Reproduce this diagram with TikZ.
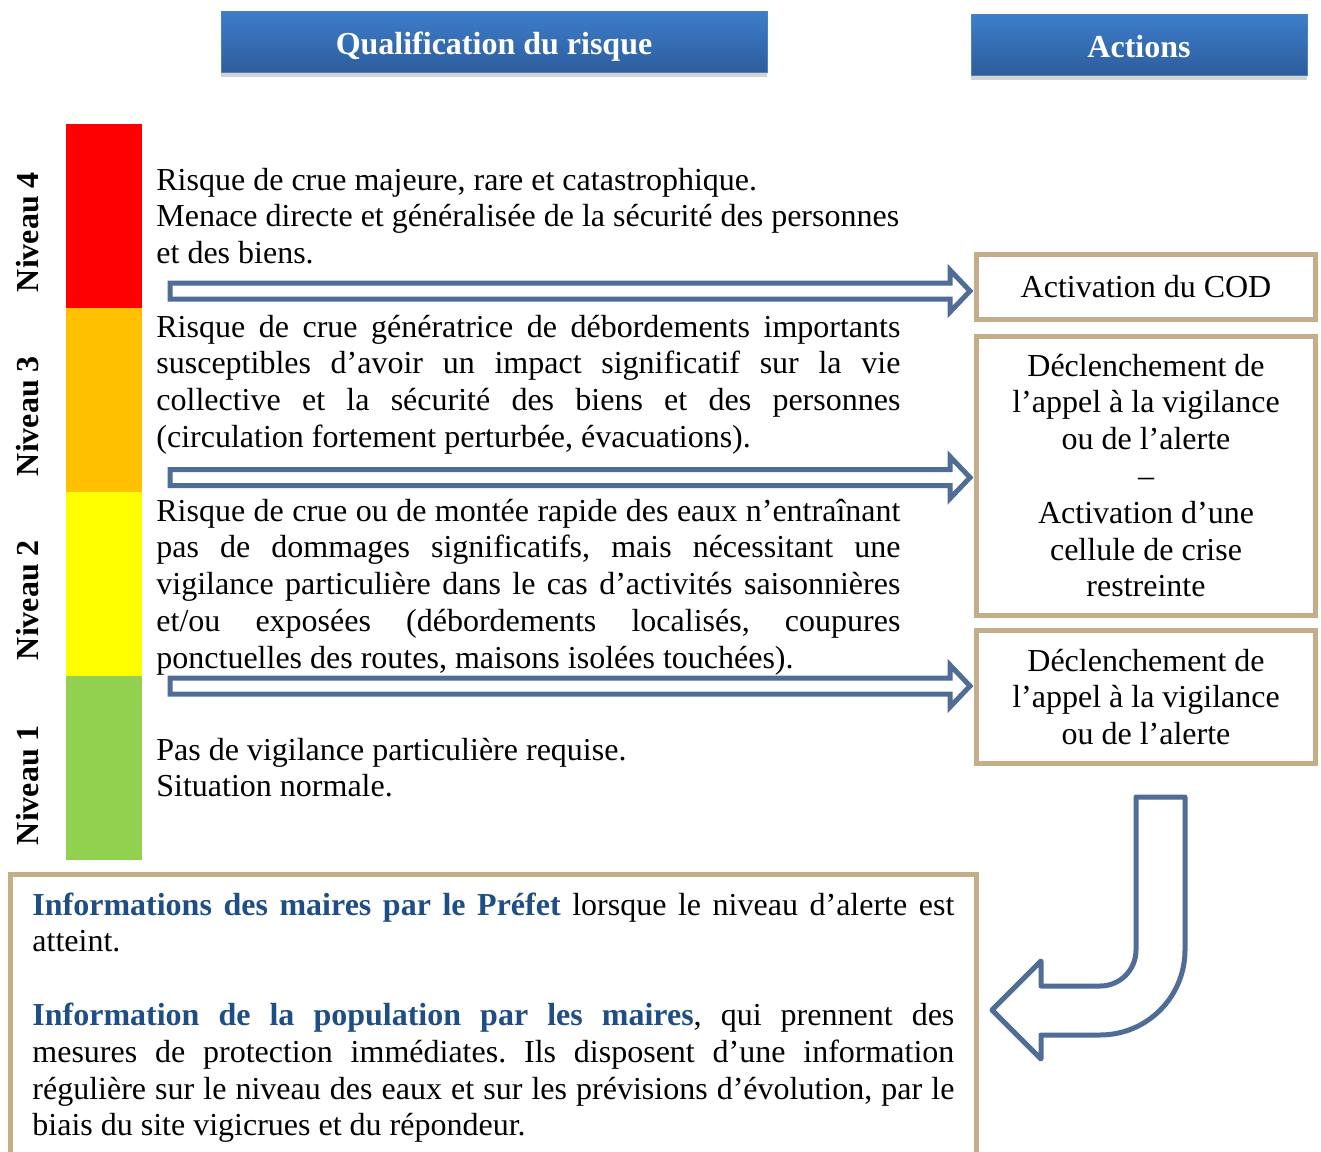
\documentclass[tikz,border=0pt]{standalone}
\usepackage{fontspec}
\setmainfont{Liberation Serif}
\usetikzlibrary{shadows}
\definecolor{hdtop}{RGB}{61,126,202}
\definecolor{hdbot}{RGB}{45,93,157}
\definecolor{hdline}{RGB}{79,129,189}
\definecolor{tanline}{RGB}{196,174,138}
\definecolor{arrblue}{RGB}{79,109,150}
\definecolor{infoblue}{RGB}{31,78,135}
\definecolor{lvlfour}{RGB}{255,0,0}
\definecolor{lvlthree}{RGB}{255,192,0}
\definecolor{lvltwo}{RGB}{255,255,0}
\definecolor{lvlone}{RGB}{146,208,80}
\newcommand{\txtsize}{\fontsize{16}{18.4}\selectfont}
\tolerance=10000
\hbadness=10000
\frenchspacing

\begin{document}
\begin{tikzpicture}[x=0.5pt,y=-0.5pt,
    header/.style={draw=hdline,line width=0.5pt,top color=hdtop,bottom color=hdbot,text=white,
        font=\txtsize\bfseries,inner sep=0pt,text height=13.4pt,text depth=0pt,
        drop shadow={shadow xshift=0pt,shadow yshift=-2.5pt,opacity=0.35}},
    action/.style={draw=tanline,line width=2.5pt,minimum width=169.5pt,align=center,font=\txtsize,inner sep=0pt},
    levelbar/.style={minimum width=38pt,minimum height=92pt,inner sep=0pt},
    levelname/.style={rotate=90,font=\txtsize\bfseries,inner sep=0pt},
    qualtext/.style={anchor=north west,text width=372pt,inner sep=0pt,align=justify,font=\txtsize},
    openarrow/.style={draw=arrblue,line width=2.5pt,fill=white}]
\useasboundingbox (0,0) rectangle (1321,1151);

% headers
\node[header,minimum width=273pt,minimum height=30.5pt] (qualif) at (494,41.5) {Qualification du risque};
\node[header,minimum width=168pt,minimum height=30.5pt] (actions) at (1139,44.5) {Actions};

% level scale
\node[levelbar,fill=lvlfour] (barfour) at (104,216) {};
\node[levelbar,fill=lvlthree] (barthree) at (104,400) {};
\node[levelbar,fill=lvltwo] (bartwo) at (104,584) {};
\node[levelbar,fill=lvlone] (barone) at (104,768) {};
\node[levelname] (nivfour) at (28,232) {Niveau 4};
\node[levelname] (nivthree) at (28,416) {Niveau 3};
\node[levelname] (nivtwo) at (28,600) {Niveau 2};
\node[levelname] (nivone) at (28,785) {Niveau 1};

% risk qualification
\node[qualtext,text width=390pt,align=flush left] (txtfour) at (156,164) {\strut Risque de crue majeure, rare et catastrophique.\\
    Menace directe et généralisée de la sécurité des personnes\\ et des biens.};
\node[qualtext] (txtthree) at (156,311) {\strut Risque de crue génératrice de débordements importants\linebreak
    susceptibles d’avoir un impact significatif sur la vie\linebreak
    collective et la sécurité des biens et des personnes\linebreak
    (circulation fortement perturbée, évacuations).};
\node[qualtext] (txttwo) at (156,495) {\strut Risque de crue ou de montée rapide des eaux n’entraînant\linebreak
    pas de dommages significatifs, mais nécessitant une\linebreak
    vigilance particulière dans le cas d’activités saisonnières\linebreak
    et/ou exposées (débordements localisés, coupures\linebreak
    ponctuelles des routes, maisons isolées touchées).};
\node[qualtext,align=flush left] (txtone) at (156,734) {\strut Pas de vigilance particulière requise.\\ Situation normale.};

% actions
\node[action,minimum height=32.75pt] (cod) at (1146,287) {Activation du COD};
\node[action,minimum height=139.5pt] (crise) at (1146,475.5) {Déclenchement de\\ l’appel à la vigilance\\ ou de l’alerte\\ –\\
    Activation d’une\\ cellule de crise\\ restreinte};
\node[action,minimum height=66.25pt] (alerte) at (1146,697) {Déclenchement de\\ l’appel à la vigilance\\ ou de l’alerte};

% block arrows
\draw[openarrow] (170,283) -- (950,283) -- (950,270) -- (970,291) -- (950,312) -- (950,299) -- (170,299) -- cycle;
\draw[openarrow] (170,469.5) -- (950,469.5) -- (950,456.5) -- (970,477.5) -- (950,498.5) -- (950,485.5) -- (170,485.5) -- cycle;
\draw[openarrow] (170,678) -- (950,678) -- (950,665) -- (970,686) -- (950,707) -- (950,694) -- (170,694) -- cycle;

% bent arrow down to the information box
\draw[openarrow,line join=round] (1136,797) -- (1185,797) -- (1185,950)
    .. controls (1185,997) and (1147,1035) .. (1100,1035) -- (1041,1035) -- (1041,1059)
    -- (992,1010) -- (1041,961) -- (1041,986) -- (1100,986)
    .. controls (1120,986) and (1136,970) .. (1136,950) -- cycle;

% information box
\draw[draw=tanline,line width=2.5pt] (10,1160) |- (976.5,874) -- (976.5,1160);
\node[qualtext,text width=461pt] (info) at (32,889) {\strut\textcolor{infoblue}{\textbf{Informations des maires par le Préfet}}
    lorsque le niveau d’alerte est\linebreak atteint.\par\mbox{}\par
    \textcolor{infoblue}{\textbf{Information de la population par les maires}}, qui prennent des\linebreak
    mesures de protection immédiates. Ils disposent d’une information\linebreak
    régulière sur le niveau des eaux et sur les prévisions d’évolution, par le\linebreak
    biais du site vigicrues et du répondeur.};
\end{tikzpicture}
\end{document}
